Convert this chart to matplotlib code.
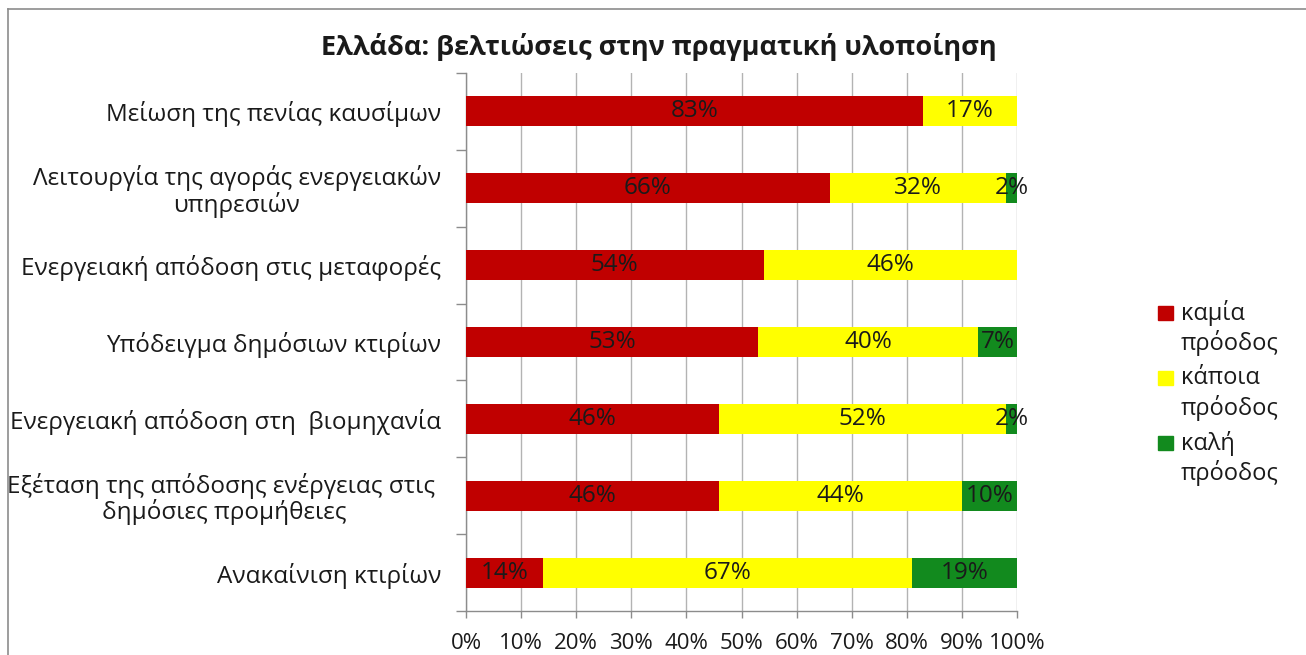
import numpy as np
import matplotlib
matplotlib.use("Agg")
import matplotlib.pyplot as plt
from matplotlib.lines import Line2D
from matplotlib.patches import Rectangle

plt.rcParams['font.family'] = ['Open Sans', 'Noto Sans', 'DejaVu Sans']

# data, top to bottom
categories = [
    "Μείωση της πενίας καυσίμων",
    "Λειτουργία της αγοράς ενεργειακών\nυπηρεσιών",
    "Ενεργειακή απόδοση στις μεταφορές",
    "Υπόδειγμα δημόσιων κτιρίων",
    "Ενεργειακή απόδοση στη  βιομηχανία",
    "Εξέταση της απόδοσης ενέργειας στις \nδημόσιες προμήθειες",
    "Ανακαίνιση κτιρίων",
]
no_progress = [83, 66, 54, 53, 46, 46, 14]
some_progress = [17, 32, 46, 40, 52, 44, 67]
good_progress = [0, 2, 0, 7, 2, 10, 19]
series_names = ["καμία\nπρόοδος", "κάποια\nπρόοδος", "καλή\nπρόοδος"]
colors = ["#C00000", "#FFFF00", "#128A1E"]
x_ticks = list(range(0, 101, 10))
title = "Ελλάδα: βελτιώσεις στην πραγματική υλοποίηση"

W, H = 1306, 655
txt = "#1a1a1a"
fig = plt.figure(figsize=(W / 100, H / 100), dpi=100)
ax = fig.add_axes([466 / W, 1 - 611 / H, 551 / W, 538 / H])

y = np.arange(len(categories))
left = np.zeros(len(categories))
for vals, name, col in zip([no_progress, some_progress, good_progress], series_names, colors):
    vals = np.array(vals, dtype=float)
    ax.barh(y, vals, left=left, height=0.39, color=col, label=name, zorder=3)
    for yi, l, v in zip(y, left, vals):
        if v > 0:
            ax.text(l + v / 2, yi, f"{int(v)}%", ha="center", va="center",
                    fontsize=17.5, color=txt, zorder=4)
    left = left + vals

ax.set_xlim(0, 100)
ax.set_ylim(len(categories) - 0.5, -0.5)
ax.set_xticks(x_ticks)
ax.set_xticklabels([f"{t}%" for t in x_ticks], fontsize=16, color=txt)
ax.set_yticks(y)
ax.set_yticklabels(categories, fontsize=17.5, color=txt, multialignment="center",
                   linespacing=1.02)
ax.set_yticks(np.arange(-0.5, len(categories), 1), minor=True)
ax.tick_params(axis="y", which="major", length=0, pad=18)
ax.tick_params(axis="y", which="minor", length=7, color="#8c8c8c", width=1)
ax.tick_params(axis="x", which="major", length=5, color="#8c8c8c", width=1, pad=11)
ax.grid(axis="x", color="#b3b3b3", linewidth=1, zorder=0)
for s in ["top", "right"]:
    ax.spines[s].set_visible(False)
for s in ["left", "bottom"]:
    ax.spines[s].set_color("#8c8c8c")
    ax.spines[s].set_linewidth(1)

fig.text(659 / W, 1 - 47 / H, title, ha="center", va="center",
         fontsize=19.5, fontweight="bold", color=txt)

# legend: marker lines up with the first line of each two-line label
for i, (name, col) in enumerate(zip(series_names, colors)):
    yc = 313 + 65 * i
    fig.add_artist(Rectangle((1158 / W, 1 - (yc + 7) / H), 15 / W, 14 / H,
                             transform=fig.transFigure, color=col))
    for j, line in enumerate(name.split("\n")):
        fig.text(1181 / W, 1 - (yc + 30 * j) / H, line, ha="left", va="center",
                 fontsize=17, color=txt)

# chart frame (cropped at right and bottom)
fig.add_artist(Line2D([7.5 / W, 7.5 / W], [0, 1 - 9 / H],
                      transform=fig.transFigure, color="#8c8c8c", lw=1.2))
fig.add_artist(Line2D([7.5 / W, 1], [1 - 9 / H, 1 - 9 / H],
                      transform=fig.transFigure, color="#8c8c8c", lw=1.2))

fig.savefig("out.png", dpi=100)
